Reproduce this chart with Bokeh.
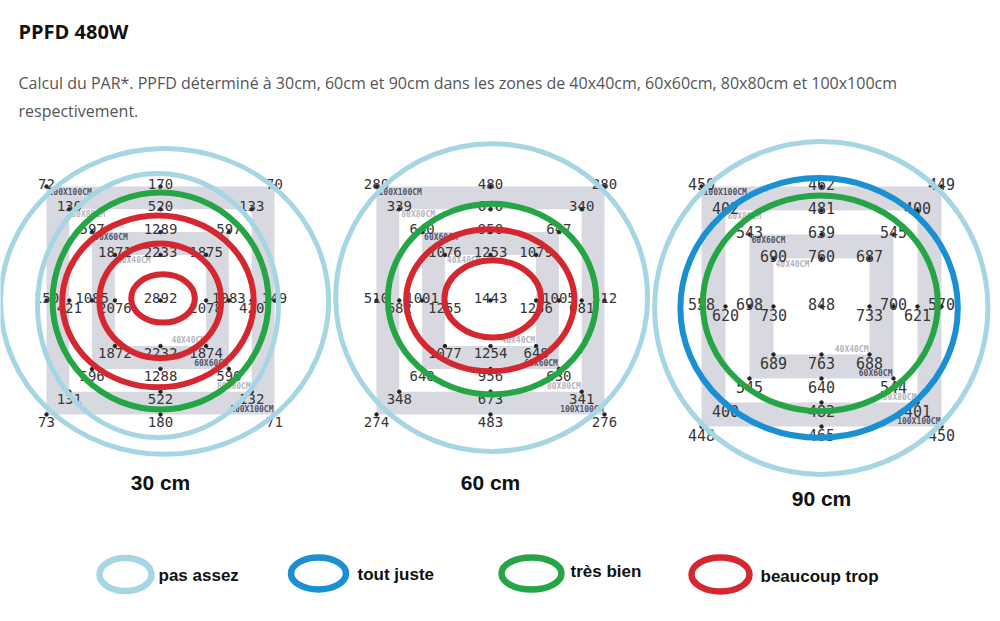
from bokeh.plotting import figure
from bokeh.layouts import column, row
from bokeh.models import Range1d, ColumnDataSource
from bokeh.core.properties import value
from bokeh.embed import file_html
from bokeh.resources import INLINE

# ---------------- data ----------------
title = "PPFD 480W"
subtitle_lines = [
    "Calcul du PAR*. PPFD déterminé à 30cm, 60cm et 90cm dans les zones de 40x40cm, 60x60cm, 80x80cm et 100x100cm",
    "respectivement.",
]
heights = ["30 cm", "60 cm", "90 cm"]
frame_sizes = [100, 80, 60, 40]            # square zones, cm
point_pos = ["TL", "T", "TR", "L", "R", "BL", "B", "BR"]   # 8 points per zone + centre

# PPFD values: zone 100, 80, 60, 40 (TL,T,TR,L,R,BL,B,BR each), then centre
ppfd_30cm = [72, 170, 70, 150, 149, 73, 180, 71,
             130, 520, 133, 421, 420, 131, 522, 132,
             597, 1289, 597, 1085, 1083, 596, 1288, 596,
             1871, 2233, 1875, 2076, 2078, 1872, 2232, 1874,
             2892]
ppfd_60cm = [280, 480, 280, 510, 512, 274, 483, 276,
             339, 670, 340, 682, 681, 348, 673, 341,
             640, 950, 647, 1001, 1005, 640, 956, 630,
             1076, 1253, 1079, 1255, 1256, 1077, 1254, 648,
             1443]
ppfd_90cm = [450, 462, 449, 558, 570, 448, 465, 450,
             402, 481, 400, 620, 621, 400, 482, 401,
             543, 639, 545, 698, 700, 545, 640, 544,
             690, 760, 687, 730, 733, 689, 763, 688,
             848]

zone_labels = ["pas assez", "tout juste", "très bien", "beaucoup trop"]
zone_colors = ["#a6d6e4", "#1a8fd2", "#26a546", "#d5272f"]

# hand-drawn rating ellipses per panel (zone index, centre dx, dy, width, height in cm)
rings_30_zone = [0, 0, 2, 3, 3, 3]
rings_30_dx = [1.8, -1.1, 0.0, -1.1, -0.1, 1.1]
rings_30_dy = [-0.4, -2.2, -0.2, -0.4, -0.1, 0.9]
rings_30_w = [143.9, 105.7, 94.7, 84.0, 53.4, 27.9]
rings_30_h = [134.2, 115.8, 95.2, 75.3, 50.3, 21.2]

rings_60_zone = [0, 2, 3, 3]
rings_60_dx = [0.5, 0.7, -0.1, 1.0]
rings_60_dy = [1.3, 0.6, 0.1, 0.7]
rings_60_w = [136.8, 91.4, 73.8, 42.4]
rings_60_h = [135.0, 83.6, 62.3, 33.8]

rings_90_zone = [0, 1, 2]
rings_90_dx = [-0.1, -1.0, -0.5]
rings_90_dy = [-0.6, -0.6, 1.3]
rings_90_w = [138.9, 115.6, 97.9]
rings_90_h = [138.7, 108.2, 89.9]

# ---------------- layout / style ----------------
W, H = 1000, 621
HEAD_H = 130
ROW_TOP, ROW_H = 130, 400
LEG_H = H - ROW_TOP - ROW_H

UNIT = {"TL": (-1, 1), "T": (0, 1), "TR": (1, 1), "L": (-1, 0), "R": (1, 0),
        "BL": (-1, -1), "B": (0, -1), "BR": (1, -1)}
BAND = "#d8d9e0"
FRAME_FILL = [BAND, "white", BAND, "white"]
FRAME_LABEL_COLOR = ["#50556a", "#b3b4bc", "#50556a", "#b3b4bc"]
MONO = value("DejaVu Sans Mono")

panels = [
    dict(x0=0, w=331, cx=160, cy=300, s=2.28, fs=14, vals=ppfd_30cm,
         rings=(rings_30_zone, rings_30_dx, rings_30_dy, rings_30_w, rings_30_h)),
    dict(x0=331, w=319, cx=490, cy=300, s=2.28, fs=14, vals=ppfd_60cm,
         rings=(rings_60_zone, rings_60_dx, rings_60_dy, rings_60_w, rings_60_h)),
    dict(x0=650, w=350, cx=821, cy=306, s=2.40, fs=15, vals=ppfd_90cm,
         rings=(rings_90_zone, rings_90_dx, rings_90_dy, rings_90_w, rings_90_h)),
]


def bare(p):
    p.xgrid.visible = False
    p.ygrid.visible = False
    p.outline_line_color = None
    p.background_fill_color = "white"
    p.border_fill_color = "white"
    return p


def make_panel(cfg, label):
    s, x0, w, cx, cy = cfg["s"], cfg["x0"], cfg["w"], cfg["cx"], cfg["cy"]
    p = figure(width=w, height=ROW_H,
               x_range=Range1d((x0 - cx) / s, (x0 + w - cx) / s),
               y_range=Range1d((cy - (ROW_TOP + ROW_H)) / s, (cy - ROW_TOP) / s),
               output_backend="svg", toolbar_location=None, min_border=0,
               x_axis_location=None, y_axis_location=None)
    bare(p)
    # zone frames
    p.rect(x=[0] * 4, y=[0] * 4, width=frame_sizes, height=frame_sizes,
           fill_color=FRAME_FILL, line_color=None)
    names = [f"{z}X{z}CM" for z in frame_sizes]
    half = [z / 2 for z in frame_sizes]
    p.text(x=[-h for h in half], y=half, text=names, text_color=FRAME_LABEL_COLOR,
           text_font=MONO, text_font_size=value("8px"), text_font_style="bold",
           text_align="left", text_baseline="top", x_offset=2, y_offset=1)
    p.text(x=half, y=[-h for h in half], text=names, text_color=FRAME_LABEL_COLOR,
           text_font=MONO, text_font_size=value("8px"), text_font_style="bold",
           text_align="right", text_baseline="bottom", x_offset=-1, y_offset=-1)
    # measurement points
    xs, ys, txt, above = [], [], [], []
    vals = cfg["vals"]
    k = 0
    for ri, z in enumerate(frame_sizes):
        for pos in point_pos:
            ux, uy = UNIT[pos]
            xs.append(ux * z / 2)
            ys.append(uy * z / 2)
            txt.append(str(vals[k]))
            above.append(uy > 0 or (uy == 0 and ri % 2 == 0))
            k += 1
    xs.append(0); ys.append(0); txt.append(str(vals[k])); above.append(True)
    p.scatter(xs, ys, size=3.5, color="#222222")
    up = ColumnDataSource(dict(x=[a for a, b in zip(xs, above) if b],
                               y=[a for a, b in zip(ys, above) if b],
                               t=[a for a, b in zip(txt, above) if b]))
    dn = ColumnDataSource(dict(x=[a for a, b in zip(xs, above) if not b],
                               y=[a for a, b in zip(ys, above) if not b],
                               t=[a for a, b in zip(txt, above) if not b]))
    fs = value(f"{cfg['fs']}px")
    p.text("x", "y", text="t", source=up, text_font=MONO, text_font_size=fs,
           text_color="#363636", text_align="center", text_baseline="alphabetic", y_offset=-3)
    p.text("x", "y", text="t", source=dn, text_font=MONO, text_font_size=fs,
           text_color="#363636", text_align="center", text_baseline="top", y_offset=2)
    # rating ellipses
    zi, dx, dy, ew, eh = cfg["rings"]
    p.ellipse(x=dx, y=dy, width=ew, height=eh, fill_color=None,
              line_color=[zone_colors[i] for i in zi],
              line_width=[5 if i == 0 else 6 for i in zi])
    # height label
    p.text(x=[0], y=[-80], text=[label], text_font=value("Liberation Sans"),
           text_font_style="bold", text_font_size=value("21px"), text_color="#111111",
           text_align="center", text_baseline="middle")
    return p


# header
head = figure(width=W, height=HEAD_H, x_range=Range1d(0, W), y_range=Range1d(HEAD_H, 0),
              output_backend="svg", toolbar_location=None, min_border=0,
              x_axis_location=None, y_axis_location=None)
bare(head)
head.text(x=[18], y=[31], text=[title], text_font=value("Open Sans"), text_font_style="bold",
          text_font_size=value("20px"), text_color="#111111", text_baseline="middle")
head.text(x=[18, 18], y=[82, 110], text=subtitle_lines, text_font=value("Open Sans"),
          text_font_size=value("16px"), text_color="#555555", text_baseline="middle")

panel_figs = [make_panel(cfg, lab) for cfg, lab in zip(panels, heights)]

# legend
leg = figure(width=W, height=LEG_H, x_range=Range1d(0, W), y_range=Range1d(H, ROW_TOP + ROW_H),
             output_backend="svg", toolbar_location=None, min_border=0,
             x_axis_location=None, y_axis_location=None)
bare(leg)
leg_x = [125, 318, 531, 720]
leg_y = [574, 573, 573, 574]
leg_w = [52, 55, 60, 58]
leg_h = [33, 32, 32, 34]
leg_tx = [158, 357, 570, 760]
leg_ty = [575, 574, 571, 576]
leg.ellipse(x=leg_x, y=leg_y, width=leg_w, height=leg_h, fill_color=None,
            line_color=zone_colors, line_width=6.5)
leg.text(x=leg_tx, y=leg_ty, text=zone_labels, text_font=value("Liberation Sans"),
         text_font_style="bold", text_font_size=value("17px"), text_color="#111111",
         text_baseline="middle")

layout = column(head, row(*panel_figs, spacing=0), leg, spacing=0)
open("out.html", "w").write(file_html(layout, INLINE))
